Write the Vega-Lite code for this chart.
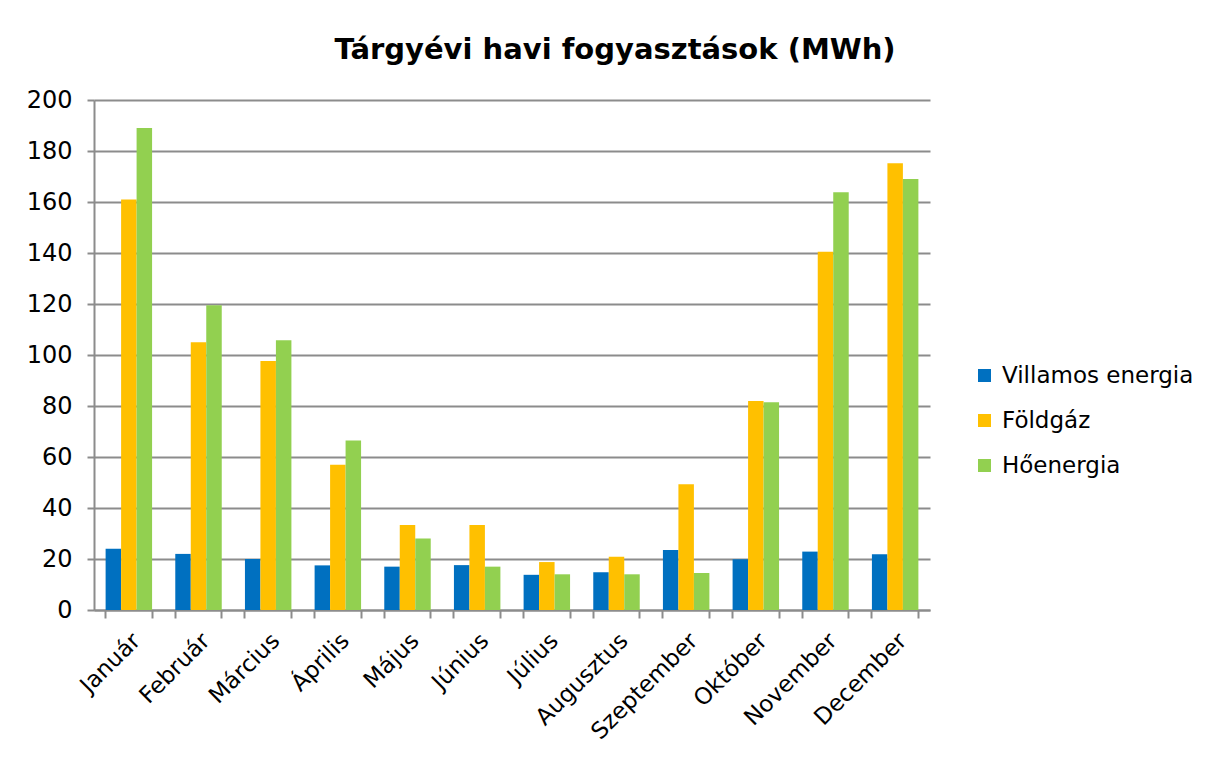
{
  "$schema": "https://vega.github.io/schema/vega-lite/v6.json",
  "autosize": {"type": "none"},
  "width": 836,
  "height": 510,
  "padding": {"left": 94, "top": 100, "right": 278, "bottom": 148},
  "background": "white",
  "title": {
    "text": "Tárgyévi havi fogyasztások (MWh)",
    "font": "DejaVu Sans",
    "fontSize": 29,
    "fontWeight": "bold",
    "color": "#000000",
    "anchor": "middle",
    "frame": "group",
    "dx": 103,
    "dy": 30,
    "baseline": "alphabetic",
    "offset": 30
  },
  "data": {
    "values": [
      {"month": "Január", "series": "Villamos energia", "value": 24},
      {"month": "Január", "series": "Földgáz", "value": 161},
      {"month": "Január", "series": "Hőenergia", "value": 189},
      {"month": "Február", "series": "Villamos energia", "value": 22},
      {"month": "Február", "series": "Földgáz", "value": 105},
      {"month": "Február", "series": "Hőenergia", "value": 119.5},
      {"month": "Március", "series": "Villamos energia", "value": 20},
      {"month": "Március", "series": "Földgáz", "value": 97.6},
      {"month": "Március", "series": "Hőenergia", "value": 105.8},
      {"month": "Április", "series": "Villamos energia", "value": 17.5},
      {"month": "Április", "series": "Földgáz", "value": 57},
      {"month": "Április", "series": "Hőenergia", "value": 66.5},
      {"month": "Május", "series": "Villamos energia", "value": 17},
      {"month": "Május", "series": "Földgáz", "value": 33.3},
      {"month": "Május", "series": "Hőenergia", "value": 28},
      {"month": "Június", "series": "Villamos energia", "value": 17.6},
      {"month": "Június", "series": "Földgáz", "value": 33.3},
      {"month": "Június", "series": "Hőenergia", "value": 17},
      {"month": "Július", "series": "Villamos energia", "value": 13.8},
      {"month": "Július", "series": "Földgáz", "value": 18.8},
      {"month": "Július", "series": "Hőenergia", "value": 14},
      {"month": "Augusztus", "series": "Villamos energia", "value": 14.8},
      {"month": "Augusztus", "series": "Földgáz", "value": 20.9},
      {"month": "Augusztus", "series": "Hőenergia", "value": 14},
      {"month": "Szeptember", "series": "Villamos energia", "value": 23.5},
      {"month": "Szeptember", "series": "Földgáz", "value": 49.3},
      {"month": "Szeptember", "series": "Hőenergia", "value": 14.5},
      {"month": "Október", "series": "Villamos energia", "value": 19.9},
      {"month": "Október", "series": "Földgáz", "value": 82},
      {"month": "Október", "series": "Hőenergia", "value": 81.5},
      {"month": "November", "series": "Villamos energia", "value": 22.9},
      {"month": "November", "series": "Földgáz", "value": 140.5},
      {"month": "November", "series": "Hőenergia", "value": 163.8},
      {"month": "December", "series": "Villamos energia", "value": 21.9},
      {"month": "December", "series": "Földgáz", "value": 175.2},
      {"month": "December", "series": "Hőenergia", "value": 169}
    ]
  },
  "layer": [
    {
      "mark": {"type": "bar"},
      "encoding": {
        "x": {
          "field": "month",
          "type": "nominal",
          "sort": null,
          "scale": {"paddingInner": 0.333, "paddingOuter": 0.1667},
          "axis": {
            "title": null,
            "orient": "bottom",
            "ticks": false,
            "domain": true,
            "domainColor": "#8c8c8c",
            "domainWidth": 2,
            "grid": false,
            "labelAngle": -45,
            "labelFont": "DejaVu Sans",
            "labelFontSize": 23,
            "labelColor": "#000000",
            "labelPadding": 19,
            "labelLimit": 300
          }
        },
        "xOffset": {
          "field": "series",
          "type": "nominal",
          "sort": ["Villamos energia", "Földgáz", "Hőenergia"],
          "scale": {"paddingInner": 0, "paddingOuter": 0}
        },
        "y": {
          "field": "value",
          "type": "quantitative",
          "scale": {"domain": [0, 200], "nice": false},
          "axis": {
            "title": null,
            "values": [0, 20, 40, 60, 80, 100, 120, 140, 160, 180, 200],
            "grid": true,
            "gridColor": "#8c8c8c",
            "gridWidth": 2,
            "domainColor": "#8c8c8c",
            "domainWidth": 2,
            "tickColor": "#8c8c8c",
            "tickWidth": 2,
            "tickSize": 7,
            "labelFont": "DejaVu Sans",
            "labelFontSize": 24,
            "labelColor": "#000000",
            "labelPadding": 15
          }
        },
        "color": {
          "field": "series",
          "type": "nominal",
          "sort": ["Villamos energia", "Földgáz", "Hőenergia"],
          "scale": {
            "domain": ["Villamos energia", "Földgáz", "Hőenergia"],
            "range": ["#0070C0", "#FFC000", "#92D050"]
          },
          "legend": {
            "title": null,
            "orient": "none",
            "legendX": 879,
            "legendY": 264,
            "padding": 0,
            "symbolType": "square",
            "symbolSize": 169,
            "symbolStrokeWidth": 0,
            "labelFont": "DejaVu Sans",
            "labelFontSize": 23,
            "labelColor": "#000000",
            "labelOffset": 6,
            "labelLimit": 300,
            "rowPadding": 21
          }
        }
      }
    },
    {
      "mark": {"type": "bar", "opacity": 0},
      "encoding": {
        "x": {
          "field": "month",
          "type": "nominal",
          "sort": null,
          "axis": {
            "title": null,
            "orient": "bottom",
            "bandPosition": 0,
            "labels": false,
            "domain": false,
            "grid": false,
            "ticks": true,
            "tickColor": "#8c8c8c",
            "tickWidth": 2,
            "tickSize": 8
          }
        }
      }
    },
    {
      "mark": {"type": "bar", "opacity": 0},
      "encoding": {
        "x": {
          "field": "month",
          "type": "nominal",
          "sort": null,
          "axis": {
            "title": null,
            "orient": "bottom",
            "bandPosition": 1,
            "labels": false,
            "domain": false,
            "grid": false,
            "ticks": true,
            "tickColor": "#8c8c8c",
            "tickWidth": 2,
            "tickSize": 8
          }
        }
      }
    }
  ],
  "resolve": {"axis": {"x": "independent"}},
  "config": {"view": {"stroke": null}}
}
